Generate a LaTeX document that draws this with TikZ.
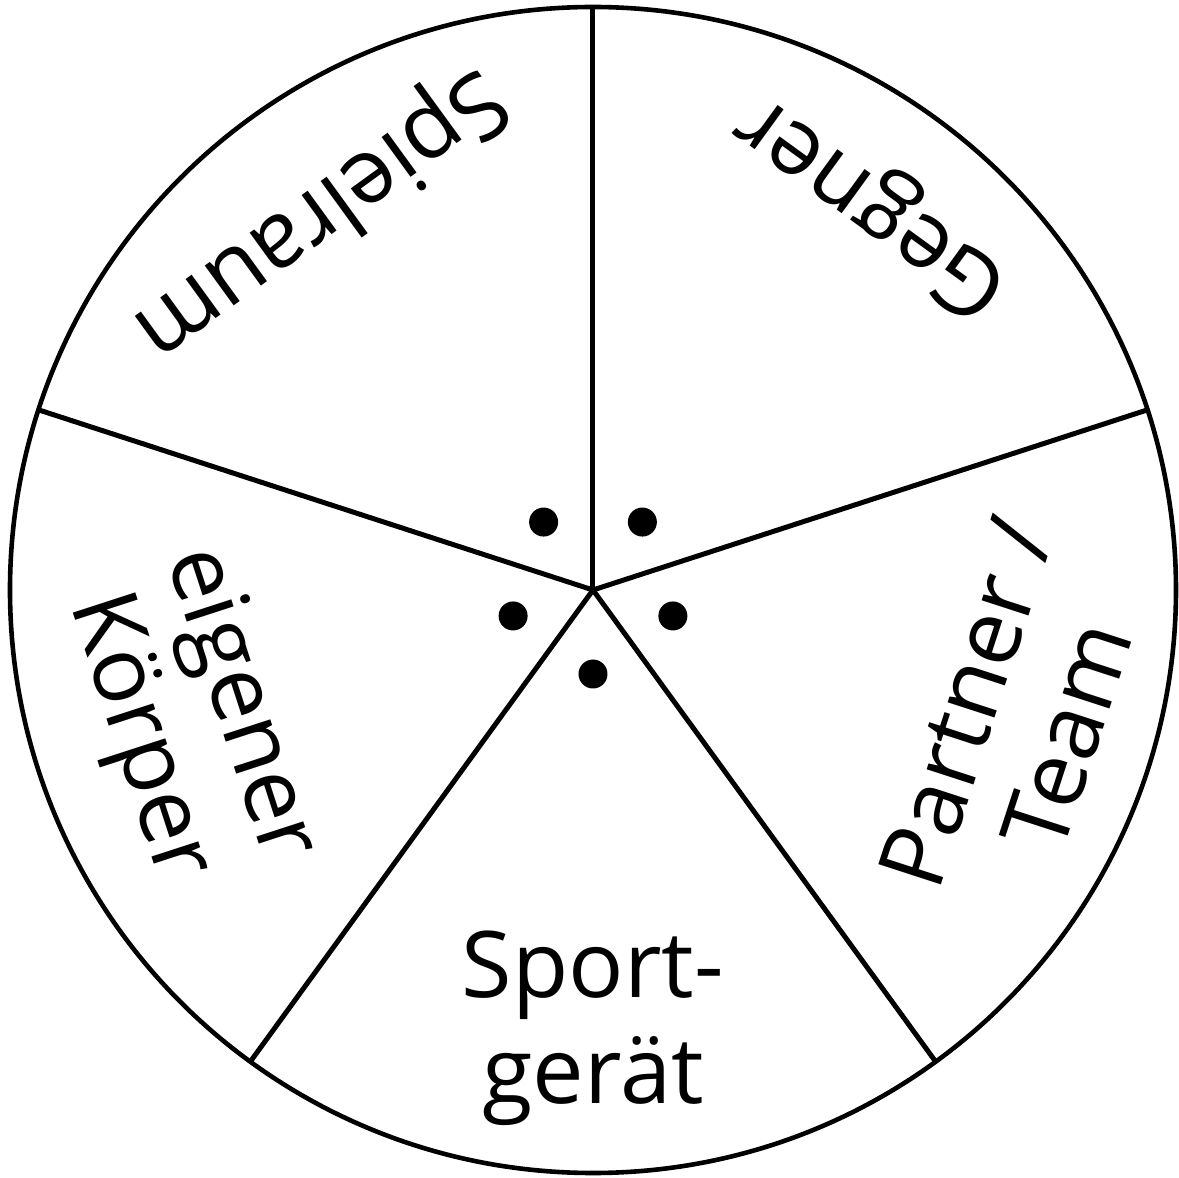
\documentclass[tikz,border=0pt]{standalone}
\usepackage{fontspec}
\setmainfont{Open Sans}
\begin{document}
\begin{tikzpicture}[x=1pt,y=1pt,
  seg/.style={line width=5pt},
  lbl/.style={font=\fontsize{92}{106}\selectfont, align=center, inner sep=0pt},
  pip/.style={circle, fill=black, minimum size=29pt, inner sep=0pt}]
\useasboundingbox (-593,-588) rectangle (586,590);
\coordinate (c) at (0,0);
\node[draw, line width=4.6pt, circle, minimum size=1166pt, inner sep=0pt] (rim) at (c) {};
\foreach \a/\n in {90/a,18/b,-54/d,-126/e,162/f}{
  \coordinate (\n) at (\a:583);
  \draw[seg] (c) -- (\n);
}
\foreach \a/\n in {54/p1,126/p2,198/p3,270/p4,342/p5}{
  \node[pip] (\n) at (\a:84) {};
}
\node[lbl] (sport) at (270:438) {Sport-\\gerät};
\node[lbl, rotate=216] (spiel) at (126:466) {Spielraum};
\node[lbl, rotate=144] (geg) at (54:478) {Gegner};
\node[lbl, rotate=72] (part) at (-17:443) {Partner /\\Team};
\node[lbl, rotate=-72] (eig) at (198:426) {eigener\\Körper};
\end{tikzpicture}
\end{document}
